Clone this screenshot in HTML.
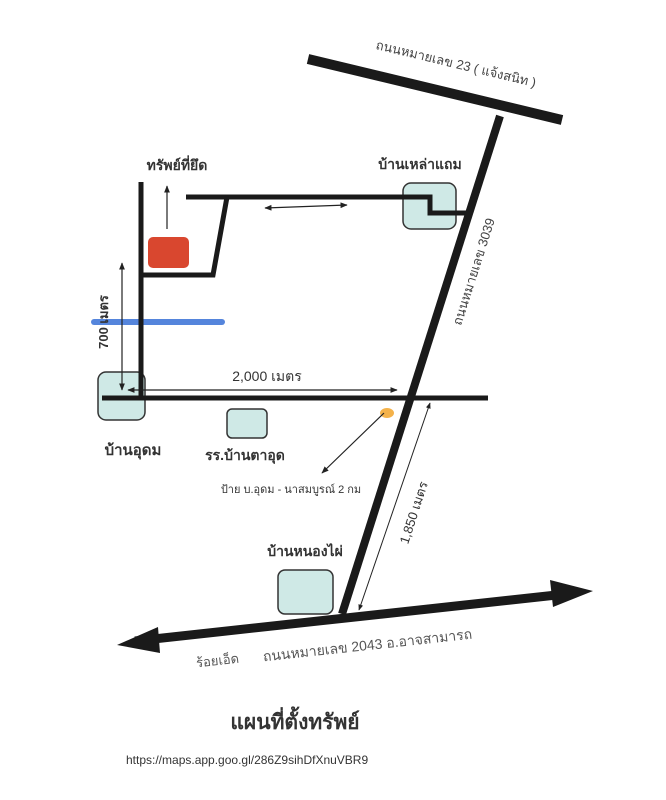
<!DOCTYPE html>
<html><head><meta charset="utf-8"><style>
html,body{margin:0;padding:0;background:#fff;}
svg{display:block;font-family:"Liberation Sans","Noto Sans CJK SC",sans-serif;}
</style></head><body>
<svg width="666" height="800" viewBox="0 0 666 800" xmlns="http://www.w3.org/2000/svg">
<defs>
<marker id="a" viewBox="0 0 10 10" refX="9" refY="5" markerWidth="6" markerHeight="6" orient="auto-start-reverse"><path d="M0,1 L10,5 L0,9 z" fill="#222"/></marker>
</defs>
<rect width="666" height="800" fill="#fff"/>
<rect x="403" y="183" width="53" height="46" rx="8" fill="#cfe9e6" stroke="#333" stroke-width="1.5"/>
<rect x="98" y="372" width="47" height="48" rx="8" fill="#cfe9e6" stroke="#333" stroke-width="1.5"/>
<rect x="227" y="409" width="40" height="29" rx="5" fill="#cfe9e6" stroke="#333" stroke-width="1.5"/>
<rect x="278" y="570" width="55" height="44" rx="7" fill="#cfe9e6" stroke="#333" stroke-width="1.5"/>
<rect x="148" y="237" width="41" height="31" rx="5" fill="#d9472f"/>
<line x1="94" y1="322" x2="222" y2="322" stroke="#5585dc" stroke-width="6" stroke-linecap="round"/>
<line x1="308" y1="59" x2="562" y2="120" stroke="#1a1a1a" stroke-width="10"/>
<line x1="500" y1="116" x2="342" y2="614" stroke="#1a1a1a" stroke-width="8"/>
<polyline points="186,197 430,197 430,213 467,213" fill="none" stroke="#1a1a1a" stroke-width="5"/>
<polyline points="227,197 213,275 142,275" fill="none" stroke="#1a1a1a" stroke-width="5"/>
<line x1="141" y1="182" x2="141" y2="400" stroke="#1a1a1a" stroke-width="5"/>
<line x1="102" y1="398" x2="488" y2="398" stroke="#1a1a1a" stroke-width="5"/>
<line x1="135" y1="641" x2="575" y2="593" stroke="#1a1a1a" stroke-width="9"/>
<polygon points="117,645 158,627 160,653" fill="#1a1a1a"/>
<polygon points="593,591 550,580 553,607" fill="#1a1a1a"/>
<line x1="167" y1="229" x2="167" y2="186" stroke="#222" stroke-width="1.2" marker-end="url(#a)"/>
<line x1="265" y1="208" x2="347" y2="205" stroke="#222" stroke-width="1.2" marker-start="url(#a)" marker-end="url(#a)"/>
<line x1="122" y1="263" x2="122" y2="390" stroke="#222" stroke-width="1.2" marker-start="url(#a)" marker-end="url(#a)"/>
<line x1="128" y1="390" x2="397" y2="390" stroke="#222" stroke-width="1.2" marker-start="url(#a)" marker-end="url(#a)"/>
<line x1="430" y1="403" x2="359" y2="610" stroke="#222" stroke-width="1" marker-start="url(#a)" marker-end="url(#a)"/>
<ellipse cx="387" cy="413" rx="7" ry="5" fill="#f4b24a"/>
<line x1="384" y1="413" x2="322" y2="473" stroke="#222" stroke-width="1.2" marker-end="url(#a)"/>
<text transform="translate(455,68) rotate(13.5)" text-anchor="middle" font-size="13" fill="#444">ถนนหมายเลข 23 ( แจ้งสนิท )</text>
<text x="420" y="169" text-anchor="middle" font-size="14" font-weight="bold" fill="#333">บ้านเหล่าแถม</text>
<text transform="translate(478,273) rotate(-72.3)" text-anchor="middle" font-size="13" fill="#444">ถนนหมายเลข 3039</text>
<text x="177" y="170" text-anchor="middle" font-size="14" font-weight="bold" fill="#333">ทรัพย์ที่ยึด</text>
<text transform="translate(108,322) rotate(-90)" text-anchor="middle" font-size="13" font-weight="bold" fill="#333">700 เมตร</text>
<text x="267" y="381" text-anchor="middle" font-size="14" fill="#333">2,000 เมตร</text>
<text x="133" y="455" text-anchor="middle" font-size="15" font-weight="bold" fill="#333">บ้านอุดม</text>
<text x="245" y="460" text-anchor="middle" font-size="14" font-weight="bold" fill="#333">รร.บ้านตาอุด</text>
<text x="291" y="493" text-anchor="middle" font-size="11" fill="#333">ป้าย บ.อุดม - นาสมบูรณ์ 2 กม</text>
<text transform="translate(418,514) rotate(-72)" text-anchor="middle" font-size="13" fill="#333">1,850 เมตร</text>
<text x="305" y="556" text-anchor="middle" font-size="14" font-weight="bold" fill="#333">บ้านหนองไผ่</text>
<text transform="translate(218,665) rotate(-6.2)" text-anchor="middle" font-size="13" fill="#555">ร้อยเอ็ด</text>
<text transform="translate(368,650) rotate(-6.2)" text-anchor="middle" font-size="14" fill="#555">ถนนหมายเลข 2043 อ.อาจสามารถ</text>
<text x="295" y="729" text-anchor="middle" font-size="21" font-weight="bold" fill="#333">แผนที่ตั้งทรัพย์</text>
<text x="126" y="764" font-size="12" fill="#333">https://maps.app.goo.gl/286Z9sihDfXnuVBR9</text>
</svg>
</body></html>
